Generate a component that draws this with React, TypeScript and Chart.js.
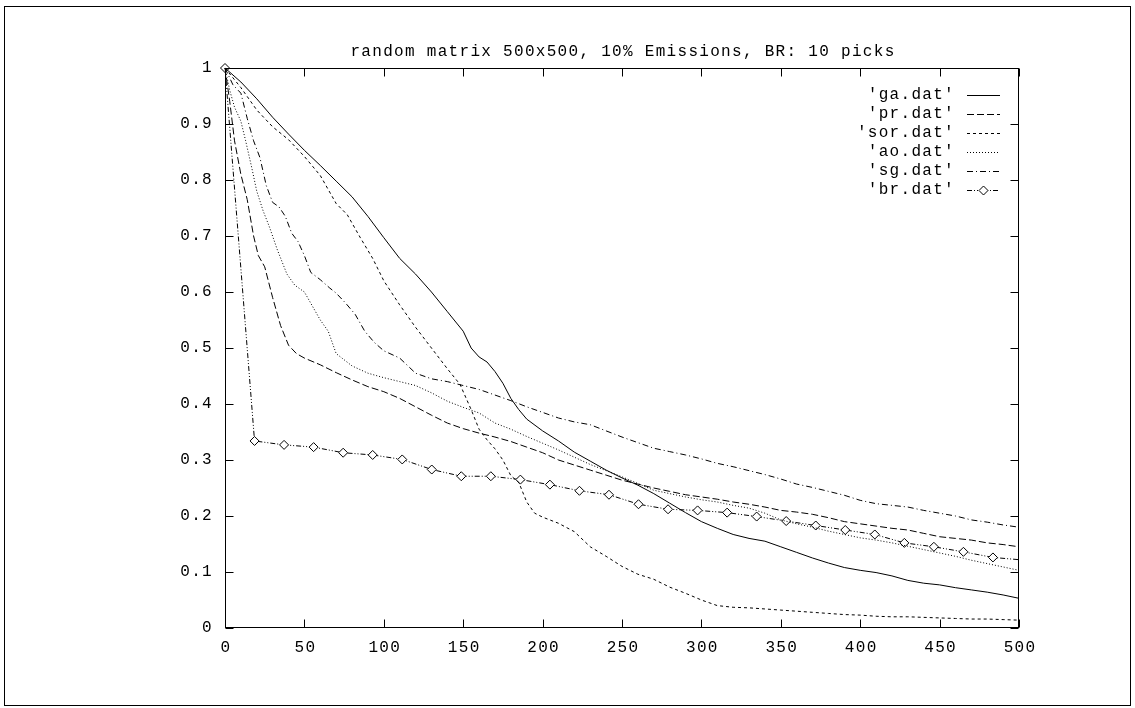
import React, { useEffect, useRef } from 'react';
import { Chart, registerables } from 'chart.js';

Chart.register(...registerables);

const TITLE = 'random matrix 500x500, 10% Emissions, BR: 10 picks';

const xTickValues = [0, 50, 100, 150, 200, 250, 300, 350, 400, 450, 500];
const xTickLabels = ['0', '50', '100', '150', '200', '250', '300', '350', '400', '450', '500'];
const yTickValues = [0, 0.1, 0.2, 0.3, 0.4, 0.5, 0.6, 0.7, 0.8, 0.9, 1];
const yTickLabels = ['0', '0.1', '0.2', '0.3', '0.4', '0.5', '0.6', '0.7', '0.8', '0.9', '1'];

const seriesNames = ["'ga.dat'", "'pr.dat'", "'sor.dat'", "'ao.dat'", "'sg.dat'", "'br.dat'"];

const gaX = [0, 10, 20, 30, 40, 50, 60, 70, 80, 90, 100, 110, 120, 130, 140, 150, 155, 160, 165, 170, 175, 180, 185, 190, 200, 210, 220, 230, 240, 250, 260, 270, 280, 290, 300, 310, 320, 330, 340, 350, 360, 370, 380, 390, 400, 410, 420, 430, 440, 450, 460, 470, 480, 490, 500];
const gaY = [1.0, 0.975, 0.945, 0.912, 0.882, 0.853, 0.826, 0.798, 0.77, 0.735, 0.697, 0.66, 0.632, 0.6, 0.565, 0.53, 0.5, 0.484, 0.475, 0.458, 0.437, 0.41, 0.39, 0.373, 0.352, 0.334, 0.314, 0.298, 0.282, 0.268, 0.255, 0.24, 0.223, 0.206, 0.19, 0.178, 0.167, 0.16, 0.155, 0.145, 0.135, 0.125, 0.116, 0.108, 0.103, 0.099, 0.093, 0.085, 0.08, 0.077, 0.072, 0.068, 0.064, 0.059, 0.053];

const prX = [0, 3, 6, 10, 14, 18, 21, 25, 30, 35, 40, 45, 50, 60, 70, 80, 90, 100, 110, 120, 130, 140, 150, 160, 170, 180, 190, 200, 210, 220, 230, 240, 250, 260, 270, 280, 290, 300, 310, 320, 330, 340, 350, 360, 370, 380, 390, 400, 410, 420, 430, 440, 450, 460, 470, 480, 490, 500];
const prY = [1.0, 0.94, 0.87, 0.81, 0.765, 0.7, 0.665, 0.645, 0.59, 0.54, 0.505, 0.49, 0.482, 0.47, 0.456, 0.443, 0.431, 0.422, 0.41, 0.395, 0.38, 0.366, 0.356, 0.348, 0.341, 0.333, 0.323, 0.313, 0.3, 0.291, 0.282, 0.273, 0.264, 0.257, 0.25, 0.244, 0.238, 0.234, 0.23, 0.225, 0.221, 0.216, 0.21, 0.207, 0.203, 0.197, 0.19, 0.186, 0.182, 0.178, 0.175, 0.169, 0.163, 0.16, 0.157, 0.152, 0.149, 0.145];

const sorX = [0, 10, 20, 30, 40, 50, 60, 70, 77, 85, 93, 100, 110, 120, 130, 140, 148, 155, 160, 165, 170, 175, 180, 185, 190, 195, 200, 210, 220, 230, 240, 250, 260, 270, 280, 290, 300, 310, 320, 330, 340, 350, 360, 370, 380, 390, 400, 410, 420, 430, 440, 450, 460, 470, 480, 490, 500];
const sorY = [1.0, 0.965, 0.925, 0.895, 0.872, 0.842, 0.808, 0.758, 0.738, 0.698, 0.66, 0.62, 0.577, 0.537, 0.5, 0.463, 0.435, 0.39, 0.355, 0.336, 0.32, 0.3, 0.272, 0.26, 0.225, 0.205, 0.198, 0.187, 0.172, 0.145, 0.128, 0.11, 0.096, 0.087, 0.073, 0.062, 0.05, 0.04, 0.037, 0.036, 0.034, 0.032, 0.03, 0.028, 0.026, 0.024, 0.023, 0.021, 0.02, 0.02, 0.019, 0.018, 0.017, 0.016, 0.016, 0.015, 0.014];

const aoX = [0, 3, 6, 10, 13, 17, 20, 24, 28, 33, 39, 44, 50, 55, 60, 65, 70, 80, 90, 100, 110, 120, 130, 140, 150, 160, 170, 180, 190, 200, 210, 220, 230, 240, 250, 260, 270, 280, 290, 300, 310, 320, 330, 340, 350, 360, 370, 380, 390, 400, 410, 420, 430, 440, 450, 460, 470, 480, 490, 500];
const aoY = [1.0, 0.96, 0.93, 0.905, 0.87, 0.82, 0.78, 0.745, 0.716, 0.675, 0.632, 0.612, 0.6, 0.575, 0.55, 0.53, 0.49, 0.468, 0.455, 0.447, 0.44, 0.433, 0.42, 0.405, 0.394, 0.384, 0.366, 0.355, 0.342, 0.33, 0.318, 0.305, 0.292, 0.281, 0.27, 0.258, 0.246, 0.24, 0.234, 0.229, 0.225, 0.219, 0.214, 0.205, 0.193, 0.186, 0.18, 0.173, 0.167, 0.161, 0.157, 0.152, 0.146, 0.14, 0.134, 0.128, 0.121, 0.115, 0.109, 0.103];

const sgX = [0, 5, 10, 14, 18, 22, 26, 30, 34, 38, 42, 46, 50, 54, 60, 66, 70, 76, 82, 88, 94, 100, 110, 120, 130, 140, 150, 160, 170, 180, 190, 200, 210, 220, 230, 240, 250, 260, 270, 280, 290, 300, 310, 320, 330, 340, 350, 360, 370, 380, 390, 400, 410, 420, 430, 440, 450, 460, 470, 480, 490, 500];
const sgY = [1.0, 0.97, 0.955, 0.91, 0.87, 0.84, 0.79, 0.76, 0.752, 0.735, 0.705, 0.69, 0.665, 0.635, 0.622, 0.607, 0.598, 0.58, 0.56, 0.53, 0.51, 0.495, 0.482, 0.455, 0.445, 0.44, 0.433, 0.426, 0.416, 0.406, 0.395, 0.385, 0.375, 0.368, 0.363, 0.352, 0.341, 0.331, 0.321, 0.315, 0.309, 0.302, 0.294, 0.288, 0.281, 0.274, 0.266, 0.257, 0.251, 0.244, 0.237, 0.228, 0.222, 0.219, 0.216, 0.21, 0.205, 0.2, 0.193, 0.189, 0.184, 0.18];

const brX = [0, 18.6, 37.2, 55.8, 74.4, 93, 111.6, 130.2, 148.8, 167.4, 186, 204.6, 223.2, 241.8, 260.4, 279, 297.6, 316.2, 334.8, 353.4, 372, 390.6, 409.2, 427.8, 446.4, 465, 483.6, 500];
const brY = [1.0, 0.334, 0.327, 0.323, 0.313, 0.309, 0.301, 0.283, 0.271, 0.271, 0.265, 0.256, 0.245, 0.238, 0.221, 0.212, 0.21, 0.206, 0.199, 0.191, 0.183, 0.175, 0.167, 0.152, 0.145, 0.136, 0.126, 0.122];

const dashes: number[][] = [[], [7, 3], [3, 3], [1, 2], [6, 3, 1, 3], [5, 2, 1, 2, 1, 2]];

const FONT = '16px "Liberation Mono", "DejaVu Sans Mono", monospace';

const toPts = (xs: number[], ys: number[]) => xs.map((x, i) => ({ x, y: ys[i] }));

const gnuplotPlugin = {
  id: 'gnuplotDecor',
  afterDraw(chart: any) {
    const ctx = chart.ctx as CanvasRenderingContext2D;
    const { left, right, top, bottom } = chart.chartArea;
    const xs = chart.scales.x;
    const ys = chart.scales.y;
    ctx.save();
    ctx.strokeStyle = '#000';
    ctx.fillStyle = '#000';
    ctx.lineWidth = 1;
    ctx.setLineDash([]);
    // page border
    ctx.strokeRect(4.5, 6.5, 1126, 699);
    // plot frame
    const L = Math.round(left) + 0.5, R = Math.round(right) - 0.5;
    const T = Math.round(top) + 0.5, B = Math.round(bottom) - 0.5;
    ctx.strokeRect(L, T, R - L, B - T);
    // ticks
    ctx.beginPath();
    xTickValues.forEach((v) => {
      const px = Math.round(xs.getPixelForValue(v)) + 0.5;
      ctx.moveTo(px, B); ctx.lineTo(px, B - 8);
      ctx.moveTo(px, T); ctx.lineTo(px, T + 8);
    });
    yTickValues.forEach((v) => {
      const py = Math.round(ys.getPixelForValue(v)) + 0.5;
      ctx.moveTo(L, py); ctx.lineTo(L + 8, py);
      ctx.moveTo(R, py); ctx.lineTo(R - 8, py);
    });
    ctx.stroke();
    // text
    ctx.font = FONT;
    (ctx as any).letterSpacing = '1.3px';
    ctx.textBaseline = 'middle';
    ctx.textAlign = 'right';
    yTickValues.forEach((v, i) => {
      ctx.fillText(yTickLabels[i], 213, ys.getPixelForValue(v));
    });
    ctx.textAlign = 'center';
    xTickValues.forEach((v, i) => {
      ctx.fillText(xTickLabels[i], xs.getPixelForValue(v) + 1, 648);
    });
    ctx.fillText(TITLE, (left + right) / 2 + 1, 52);
    // legend
    ctx.textAlign = 'right';
    seriesNames.forEach((name, i) => {
      const y = 95 + i * 18.9;
      ctx.setLineDash([]);
      ctx.fillText(name, 955, y);
      ctx.beginPath();
      ctx.setLineDash(dashes[i]);
      ctx.moveTo(967, Math.round(y) + 0.5);
      ctx.lineTo(1000, Math.round(y) + 0.5);
      ctx.stroke();
      if (i === 5) {
        ctx.setLineDash([]);
        const cx = 983.5, cy = Math.round(y) + 0.5, r = 4.5;
        ctx.fillStyle = '#fff';
        ctx.beginPath();
        ctx.moveTo(cx, cy - r); ctx.lineTo(cx + r, cy); ctx.lineTo(cx, cy + r); ctx.lineTo(cx - r, cy); ctx.closePath();
        ctx.fill();
        ctx.stroke();
        ctx.fillStyle = '#000';
      }
    });
    ctx.restore();
  },
};

export default function App() {
  const ref = useRef<HTMLCanvasElement | null>(null);
  useEffect(() => {
    if (!ref.current) return;
    const base = (i: number) => ({
      borderColor: '#000',
      borderWidth: 1,
      borderDash: dashes[i],
      pointRadius: 0,
      tension: 0,
      fill: false,
      clip: false as any,
    });
    const chart = new Chart(ref.current, {
      type: 'line',
      data: {
        datasets: [
          { label: seriesNames[0], data: toPts(gaX, gaY), ...base(0) },
          { label: seriesNames[1], data: toPts(prX, prY), ...base(1) },
          { label: seriesNames[2], data: toPts(sorX, sorY), ...base(2) },
          { label: seriesNames[3], data: toPts(aoX, aoY), ...base(3) },
          { label: seriesNames[4], data: toPts(sgX, sgY), ...base(4) },
          {
            label: seriesNames[5],
            data: toPts(brX, brY),
            ...base(5),
            pointRadius: brX.map((_, i) => (i === brX.length - 1 ? 0 : 4.5)),
            pointStyle: 'rectRot',
            pointBorderColor: '#000',
            pointBackgroundColor: '#fff',
            pointBorderWidth: 1,
          },
        ],
      },
      options: {
        responsive: false,
        animation: false,
        devicePixelRatio: 1,
        events: [],
        layout: { padding: { left: 0, right: 116, top: 68, bottom: 0 } },
        plugins: { legend: { display: false }, title: { display: false }, tooltip: { enabled: false } },
        scales: {
          x: {
            type: 'linear',
            min: 0,
            max: 500,
            ticks: { display: false },
            grid: { display: false },
            border: { display: false },
            afterFit: (s: any) => { s.height = 80; },
          },
          y: {
            type: 'linear',
            min: 0,
            max: 1,
            ticks: { display: false },
            grid: { display: false },
            border: { display: false },
            afterFit: (s: any) => { s.width = 225; },
          },
        },
      },
      plugins: [gnuplotPlugin],
    });
    return () => chart.destroy();
  }, []);
  return (
    <div style={{ position: 'fixed', left: 0, top: 0, width: 1135, height: 708, background: '#fff' }}>
      <canvas ref={ref} width={1135} height={708} style={{ width: 1135, height: 708, display: 'block' }} />
    </div>
  );
}
